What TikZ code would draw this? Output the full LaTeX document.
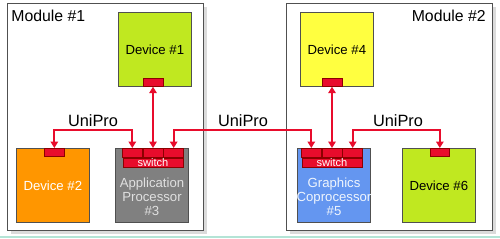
\documentclass[tikz,border=0pt]{standalone}
\usepackage{fontspec}
\setmainfont{Liberation Sans}
\usetikzlibrary{arrows.meta,positioning,calc,shadows}
\definecolor{devlime}{RGB}{192,232,32}
\definecolor{devyellow}{RGB}{255,255,64}
\definecolor{devorange}{RGB}{255,150,0}
\definecolor{procgray}{RGB}{128,128,128}
\definecolor{procblue}{RGB}{100,150,240}
\definecolor{linkred}{RGB}{232,12,44}
\definecolor{edgegray}{RGB}{80,80,80}
\definecolor{rimteal}{RGB}{180,228,214}

\begin{document}
\begin{tikzpicture}[x=0.02cm, y=-0.02cm,
    module/.style={rectangle, draw=edgegray, fill=white, anchor=north west, inner sep=0pt,
                   minimum height=4.54cm,
                   drop shadow={shadow xshift=0.08cm, shadow yshift=-0.08cm, fill=black!14, opacity=1}},
    modlabel/.style={font=\fontsize{9}{10}\selectfont, inner sep=0pt},
    device/.style={rectangle, draw=edgegray, anchor=north west, inner sep=0pt,
                   minimum width=1.46cm, minimum height=1.48cm, align=center,
                   font=\fontsize{7.5}{8}\selectfont},
    proctext/.style={font=\fontsize{7.5}{8}\selectfont, align=center, inner sep=0pt},
    port/.style={rectangle, draw=red!55!black, fill=linkred, inner sep=0pt,
                 minimum width=0.4cm, minimum height=0.16cm},
    cell/.style={rectangle, draw=red!55!black, fill=linkred, inner sep=0pt,
                 minimum width=0.4cm, minimum height=0.18cm},
    swbar/.style={rectangle, draw=red!55!black, fill=linkred, inner sep=0pt, text=white,
                  minimum width=1.2cm, minimum height=0.18cm, font=\fontsize{6.3}{7}\selectfont},
    link/.style={draw=linkred, line width=1.2pt, {Triangle[length=0.13cm,width=0.15cm]}-{Triangle[length=0.13cm,width=0.15cm]}},
    linklabel/.style={font=\fontsize{9.3}{10}\selectfont, inner sep=0pt}
]
    \useasboundingbox (0,0) rectangle (500,238);
    \draw[rimteal, line width=1pt] (0,237) -- (500,237);

    % modules
    \node[module, minimum width=3.92cm] (mod1) at (7,3) {};
    \node[module, minimum width=4.12cm] (mod2) at (286,3) {};
    \node[modlabel, anchor=west] at (11,16) {Module \#1};
    \node[modlabel, anchor=east] at (486,16) {Module \#2};

    % module #1 devices
    \node[device, fill=devlime]   (dev1)  at (118,12)  {Device \#1};
    \node[device, fill=devorange, text=white] (dev2)  at (16,148)  {Device \#2};
    \node[device, fill=procgray]  (proc3) at (115,148) {};
    \node[proctext, text=black!12] at (152,197) {Application\\Processor\\\#3};

    % switch of #3
    \node[cell, anchor=north] (s3b) at (153,148) {};
    \node[cell, left=0pt of s3b]  (s3a) {};
    \node[cell, right=0pt of s3b] (s3c) {};
    \node[swbar, below=0pt of s3b] (s3bar) {switch};

    % module #2 devices
    \node[device, fill=devyellow] (dev4)  at (300,12)  {Device \#4};
    \node[device, fill=procblue]  (proc5) at (297,148) {};
    \node[proctext, text=white!90!procblue] at (334,197) {Graphics\\Coprocessor\\\#5};
    \node[device, fill=devlime]   (dev6)  at (402,148) {Device \#6};

    % switch of #5
    \node[cell, anchor=north] (s5b) at (332,148) {};
    \node[cell, left=0pt of s5b]  (s5a) {};
    \node[cell, right=0pt of s5b] (s5c) {};
    \node[swbar, below=0pt of s5b] (s5bar) {switch};

    % ports
    \node[port, anchor=south] (p1) at (s3b.north |- dev1.south) {};
    \node[port, anchor=north] (p2) at ($(dev2.north)+(1.5,0)$) {};
    \node[port, anchor=south] (p4) at (s5b.north |- dev4.south) {};
    \node[port, anchor=north] (p6) at ($(dev6.north)+(1,0)$) {};

    % links
    \draw[link] (p1.south) -- (s3b.north);
    \draw[link] (p2.north) -- ++(0,-18) -| (s3a.north);
    \draw[link] (s3c.north) -- ++(0,-18) -| (s5a.north);
    \draw[link] (p4.south) -- (s5b.north);
    \draw[link] (s5c.north) -- ++(0,-18) -| (p6.north);

    \node[linklabel] at (93,121)  {UniPro};
    \node[linklabel] at (243,121) {UniPro};
    \node[linklabel] at (398,121) {UniPro};
\end{tikzpicture}
\end{document}
